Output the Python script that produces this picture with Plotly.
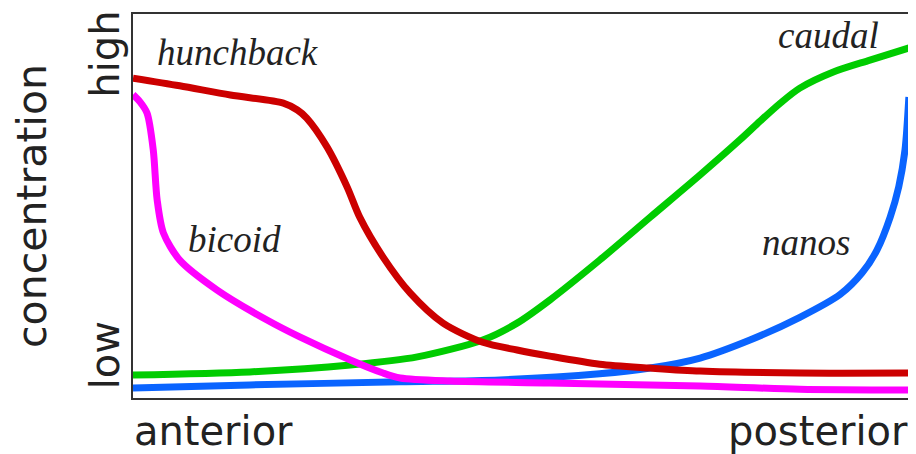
import plotly.graph_objects as go

# position along embryo (0 = anterior, 100 = posterior)
hb_x = [0, 6.0, 12.5, 19.3, 21.1, 22.3, 24.9, 27.5, 29.1, 32.1, 35.6, 39.8, 44.9, 49.3, 53.5, 59.9, 66.4, 72.8, 85.6, 100]
hb_y = [83.3, 81.3, 78.9, 76.8, 75.0, 72.9, 65.4, 54.9, 47.1, 36.7, 27.3, 19.5, 14.5, 12.5, 10.9, 8.8, 7.8, 7.0, 6.5, 6.5]

bcd_x = [0, 0.9, 1.8, 2.6, 3.1, 3.9, 6.0, 10.8, 17.2, 21.4, 27.9, 32.1, 34.3, 40.7, 53.5, 72.8, 85.6, 100]
bcd_y = [79.0, 77.1, 74.2, 64.6, 51.6, 43.0, 35.9, 28.1, 20.3, 15.9, 9.9, 6.5, 5.2, 4.4, 3.9, 3.1, 2.3, 2.1]

cad_x = [0, 15.0, 27.9, 36.5, 44.9, 49.3, 53.5, 59.9, 66.4, 72.8, 77.9, 80.5, 83.1, 85.6, 89.9, 94.6, 100]
cad_y = [6.0, 6.8, 8.6, 10.7, 15.1, 19.5, 25.5, 35.9, 47.1, 58.1, 67.2, 72.1, 76.8, 80.7, 84.9, 88.0, 91.4]

nos_x = [0, 15.0, 34.3, 47.1, 59.9, 66.4, 72.8, 79.2, 85.6, 90.8, 93.6, 95.5, 97.2, 98.3, 99.1, 99.6]
nos_y = [2.6, 3.4, 4.2, 4.7, 6.3, 7.8, 10.4, 15.1, 21.0, 27.0, 32.6, 38.5, 47.1, 55.0, 64.6, 78.4]

gene_names = ["hunchback", "bicoid", "caudal", "nanos"]
label_x = [13.35, 13.0, 89.3, 86.4]
label_y = [90.1, 41.4, 94.3, 40.6]

x_tick_vals = [10.3, 87.9]
x_tick_text = ["anterior", "posterior"]
y_tick_vals = [88.0, 9.6]
y_tick_text = ["high", "low"]
y_title = "concentration"

fig = go.Figure()
series = [
    (cad_x, cad_y, "#00cc00"),
    (nos_x, nos_y, "#0a64ff"),
    (hb_x, hb_y, "#cc0000"),
    (bcd_x, bcd_y, "#ff00ff"),
]
for xs, ys, col in series:
    fig.add_trace(go.Scatter(x=xs, y=ys, mode="lines",
                             line=dict(color=col, width=7, shape="spline", smoothing=0.8),
                             hoverinfo="skip", showlegend=False))

for name, lx, ly in zip(gene_names, label_x, label_y):
    fig.add_annotation(x=lx, y=ly, xref="x", yref="y", text=name, showarrow=False,
                       font=dict(family="Liberation Serif", size=37, color="#222222",
                                 style="italic"),
                       xanchor="center", yanchor="middle")

# the page body has an 8px default margin, so the figure is 8px smaller
fig.update_layout(
    width=908, height=446,
    margin=dict(l=125, r=4, t=6, b=56),
    paper_bgcolor="white", plot_bgcolor="white",
    font=dict(family="DejaVu Sans", size=40, color="#222222"),
)
fig.update_xaxes(range=[0, 100], showgrid=False, zeroline=False, showline=True,
                 linecolor="#333333", linewidth=2, mirror=True, automargin=False,
                 tickvals=x_tick_vals, ticktext=x_tick_text, ticks="",
                 ticklabelstandoff=-3,
                 tickfont=dict(family="DejaVu Sans", size=40, color="#222222"))
fig.update_yaxes(range=[0, 100], showgrid=False, zeroline=False, showline=True,
                 linecolor="#333333", linewidth=2, mirror=True, automargin=False,
                 tickvals=y_tick_vals, ticktext=y_tick_text, ticks="", tickangle=-90,
                 ticklabelstandoff=-4,
                 tickfont=dict(family="DejaVu Sans", size=40, color="#222222"),
                 title=dict(text=y_title, standoff=23,
                            font=dict(family="DejaVu Sans", size=41, color="#222222")))

fig.write_html("out.html")
